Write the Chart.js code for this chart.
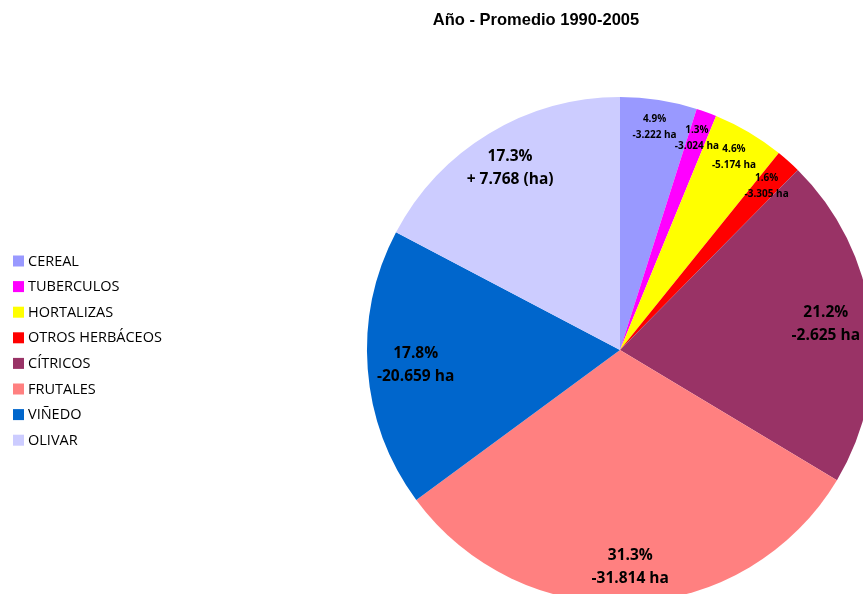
<!DOCTYPE html>
<html>
<head>
<meta charset="utf-8">
<script src="https://cdn.jsdelivr.net/npm/chart.js@4.4.0/dist/chart.umd.min.js"></script>
<style>
html,body{margin:0;padding:0;overflow:hidden;background:#fff;width:863px;height:594px;}
canvas{display:block;}
</style>
</head>
<body>
<canvas id="c" width="873" height="603"></canvas>
<script>
const titleText = 'Año - Promedio 1990-2005';
const categories = ['CEREAL','TUBERCULOS','HORTALIZAS','OTROS HERBÁCEOS','CÍTRICOS','FRUTALES','VIÑEDO','OLIVAR'];
const sharePct = [4.9, 1.3, 4.6, 1.6, 21.2, 31.3, 17.8, 17.3];
const haLabels = ['-3.222 ha','-3.024 ha','-5.174 ha','-3.305 ha','-2.625 ha','-31.814 ha','-20.659 ha','+ 7.768 (ha)'];
const colors = ['#9999FF','#FF00FF','#FFFF00','#FF0000','#993366','#FF8080','#0066CC','#CCCCFF'];

const labelPlugin = {
  id: 'sliceLabels',
  afterDatasetsDraw(chart, args, opts) {
    const ctx = chart.ctx;
    const meta = chart.getDatasetMeta(0);
    const ds = chart.data.datasets[0];
    meta.data.forEach((arc, i) => {
      const p = arc.getProps(['x','y','startAngle','endAngle','outerRadius'], true);
      const mid = (p.startAngle + p.endAngle) / 2;
      const r = p.outerRadius * opts.radius[i];
      const x = p.x + Math.cos(mid) * r;
      const y = p.y + Math.sin(mid) * r;
      const small = ds.data[i] < 10;
      const fs = small ? 10 : 15.5;
      const gap = small ? 16 : 23;
      ctx.save();
      ctx.fillStyle = '#000';
      ctx.textAlign = 'center';
      ctx.textBaseline = 'middle';
      ctx.font = 'bold ' + fs + 'px "Open Sans", sans-serif';
      ctx.fillText(ds.data[i].toFixed(1) + '%', x, y - gap/2);
      ctx.fillText(opts.second[i], x, y + gap/2);
      ctx.restore();
    });
  }
};

const sideLegend = {
  id: 'sideLegend',
  afterDraw(chart, args, opts) {
    const ctx = chart.ctx;
    ctx.save();
    ctx.font = 'bold 16.5px "Liberation Sans", Arial, sans-serif';
    ctx.fillStyle = '#000';
    ctx.textAlign = 'center';
    ctx.textBaseline = 'middle';
    ctx.fillText(opts.title, 536, 20);
    ctx.textAlign = 'left';
    ctx.font = '14.5px "Open Sans", sans-serif';
    chart.data.labels.forEach((lab, i) => {
      const y = 261 + i * 25.6;
      ctx.fillStyle = chart.data.datasets[0].backgroundColor[i];
      ctx.fillRect(13, y - 5.5, 11, 11);
      ctx.fillStyle = '#000';
      ctx.fillText(lab, 28, y + 0.5);
    });
    ctx.restore();
  }
};

new Chart(document.getElementById('c'), {
  type: 'pie',
  data: {
    labels: categories,
    datasets: [{
      data: sharePct,
      backgroundColor: colors,
      borderWidth: 0
    }]
  },
  options: {
    responsive: false,
    animation: false,
    layout: { padding: { left: 367, top: 97, right: 0, bottom: 0 } },
    plugins: {
      legend: { display: false },
      title: { display: false },
      tooltip: { enabled: false },
      sliceLabels: {
        radius: [0.89, 0.89, 0.885, 0.87, 0.82, 0.86, 0.81, 0.84],
        second: haLabels
      },
      sideLegend: { title: titleText }
    }
  },
  plugins: [labelPlugin, sideLegend]
});
</script>
</body>
</html>
